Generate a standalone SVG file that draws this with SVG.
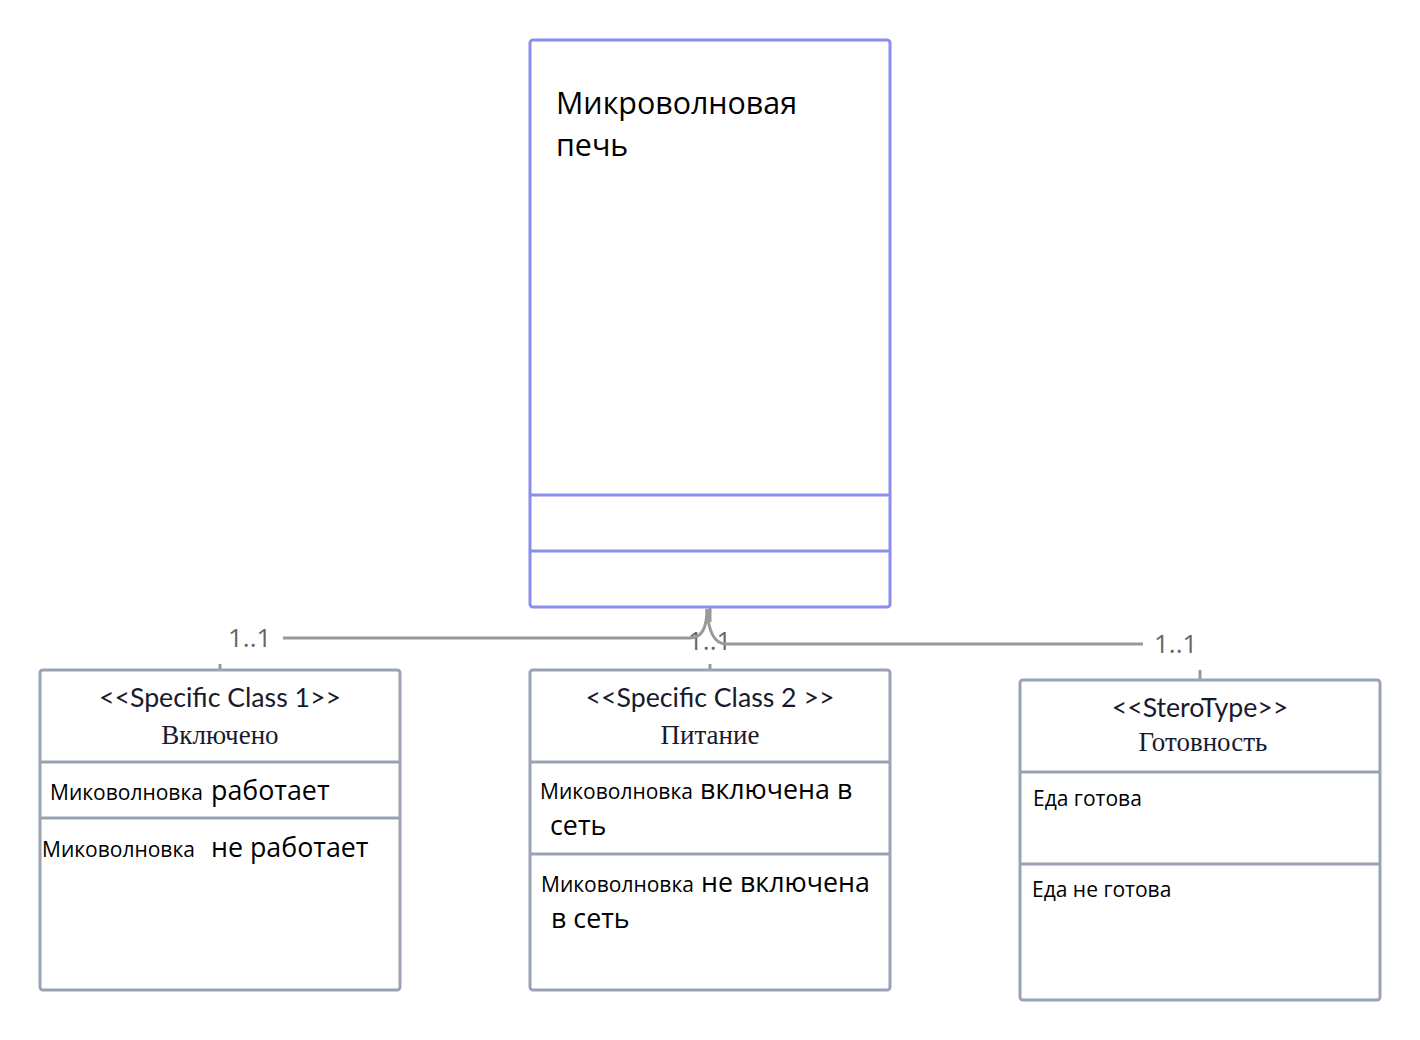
<svg xmlns="http://www.w3.org/2000/svg" width="1420" height="1040" viewBox="0 0 1420 1040">
<style>
.main{fill:#fff;stroke:#8a8fee;stroke-width:3}
.mline{stroke:#8a8fee;stroke-width:3}
.box{fill:#fff;stroke:#99a3b5;stroke-width:3}
.bline{stroke:#99a3b5;stroke-width:3}
.conn{fill:none;stroke:#999;stroke-width:3}
.lbl{font-family:"Open Sans",sans-serif;font-size:26px;fill:#666}
.ster{font-family:Lato,sans-serif;font-size:26.7px;fill:#1a1a2e;text-anchor:middle}
.ser{font-family:"Liberation Serif",serif;font-size:27px;fill:#1a1a2e;text-anchor:middle}
.sm{font-family:"Open Sans",sans-serif;font-size:21px;fill:#000}
.lg{font-family:"Open Sans",sans-serif;font-size:26.8px;fill:#000}
.ttl{font-family:"Open Sans",sans-serif;font-size:30.4px;fill:#000}
</style>
<g id="main">
<rect class="main" x="530" y="40" width="360" height="567" rx="3"/>
<line class="mline" x1="530" y1="495" x2="890" y2="495"/>
<line class="mline" x1="530" y1="551" x2="890" y2="551"/>
<text class="ttl" x="556" y="114">Микроволновая</text>
<text class="ttl" x="556" y="156">печь</text>
</g>
<g id="connectors">
<path class="conn" d="M710,607 L710,670"/>
<rect x="686" y="622" width="46" height="42" fill="#fff"/>
<text class="lbl" x="688" y="650">1..1</text>
<path class="conn" d="M707,609 Q707,638 690,638 L283,638"/>
<line class="conn" x1="220" y1="664" x2="220" y2="670"/>
<text class="lbl" x="228" y="647">1..1</text>
<path class="conn" d="M707,609 Q709,644 726,644 L1143,644"/>
<line class="conn" x1="1200" y1="670" x2="1200" y2="680"/>
<text class="lbl" x="1154" y="653">1..1</text>
</g>
<g id="class1">
<rect class="box" x="40" y="670" width="360" height="320" rx="3"/>
<line class="bline" x1="40" y1="762" x2="400" y2="762"/>
<line class="bline" x1="40" y1="818" x2="400" y2="818"/>
<text class="ster" x="220" y="707">&lt;&lt;Specific Class 1&gt;&gt;</text>
<text class="ser" x="220" y="744">Включено</text>
<text y="800"><tspan class="sm" x="50">Миковолновка</tspan><tspan class="lg" x="211">работает</tspan></text>
<text y="857"><tspan class="sm" x="42">Миковолновка</tspan><tspan class="lg" x="211">не работает</tspan></text>
</g>
<g id="class2">
<rect class="box" x="530" y="670" width="360" height="320" rx="3"/>
<line class="bline" x1="530" y1="762" x2="890" y2="762"/>
<line class="bline" x1="530" y1="854" x2="890" y2="854"/>
<text class="ster" x="710" y="707">&lt;&lt;Specific Class 2 &gt;&gt;</text>
<text class="ser" x="710" y="744">Питание</text>
<text y="799"><tspan class="sm" x="540">Миковолновка</tspan><tspan class="lg" x="700">включена в</tspan></text>
<text class="lg" x="550" y="835">сеть</text>
<text y="892"><tspan class="sm" x="541">Миковолновка</tspan><tspan class="lg" x="701">не включена</tspan></text>
<text class="lg" x="551" y="928">в сеть</text>
</g>
<g id="class3">
<rect class="box" x="1020" y="680" width="360" height="320" rx="3"/>
<line class="bline" x1="1020" y1="772" x2="1380" y2="772"/>
<line class="bline" x1="1020" y1="864" x2="1380" y2="864"/>
<text class="ster" x="1200" y="717">&lt;&lt;SteroType&gt;&gt;</text>
<text class="ser" x="1203" y="751">Готовность</text>
<text class="sm" x="1033" y="806">Еда готова</text>
<text class="sm" x="1032" y="897">Еда не готова</text>
</g>
</svg>
